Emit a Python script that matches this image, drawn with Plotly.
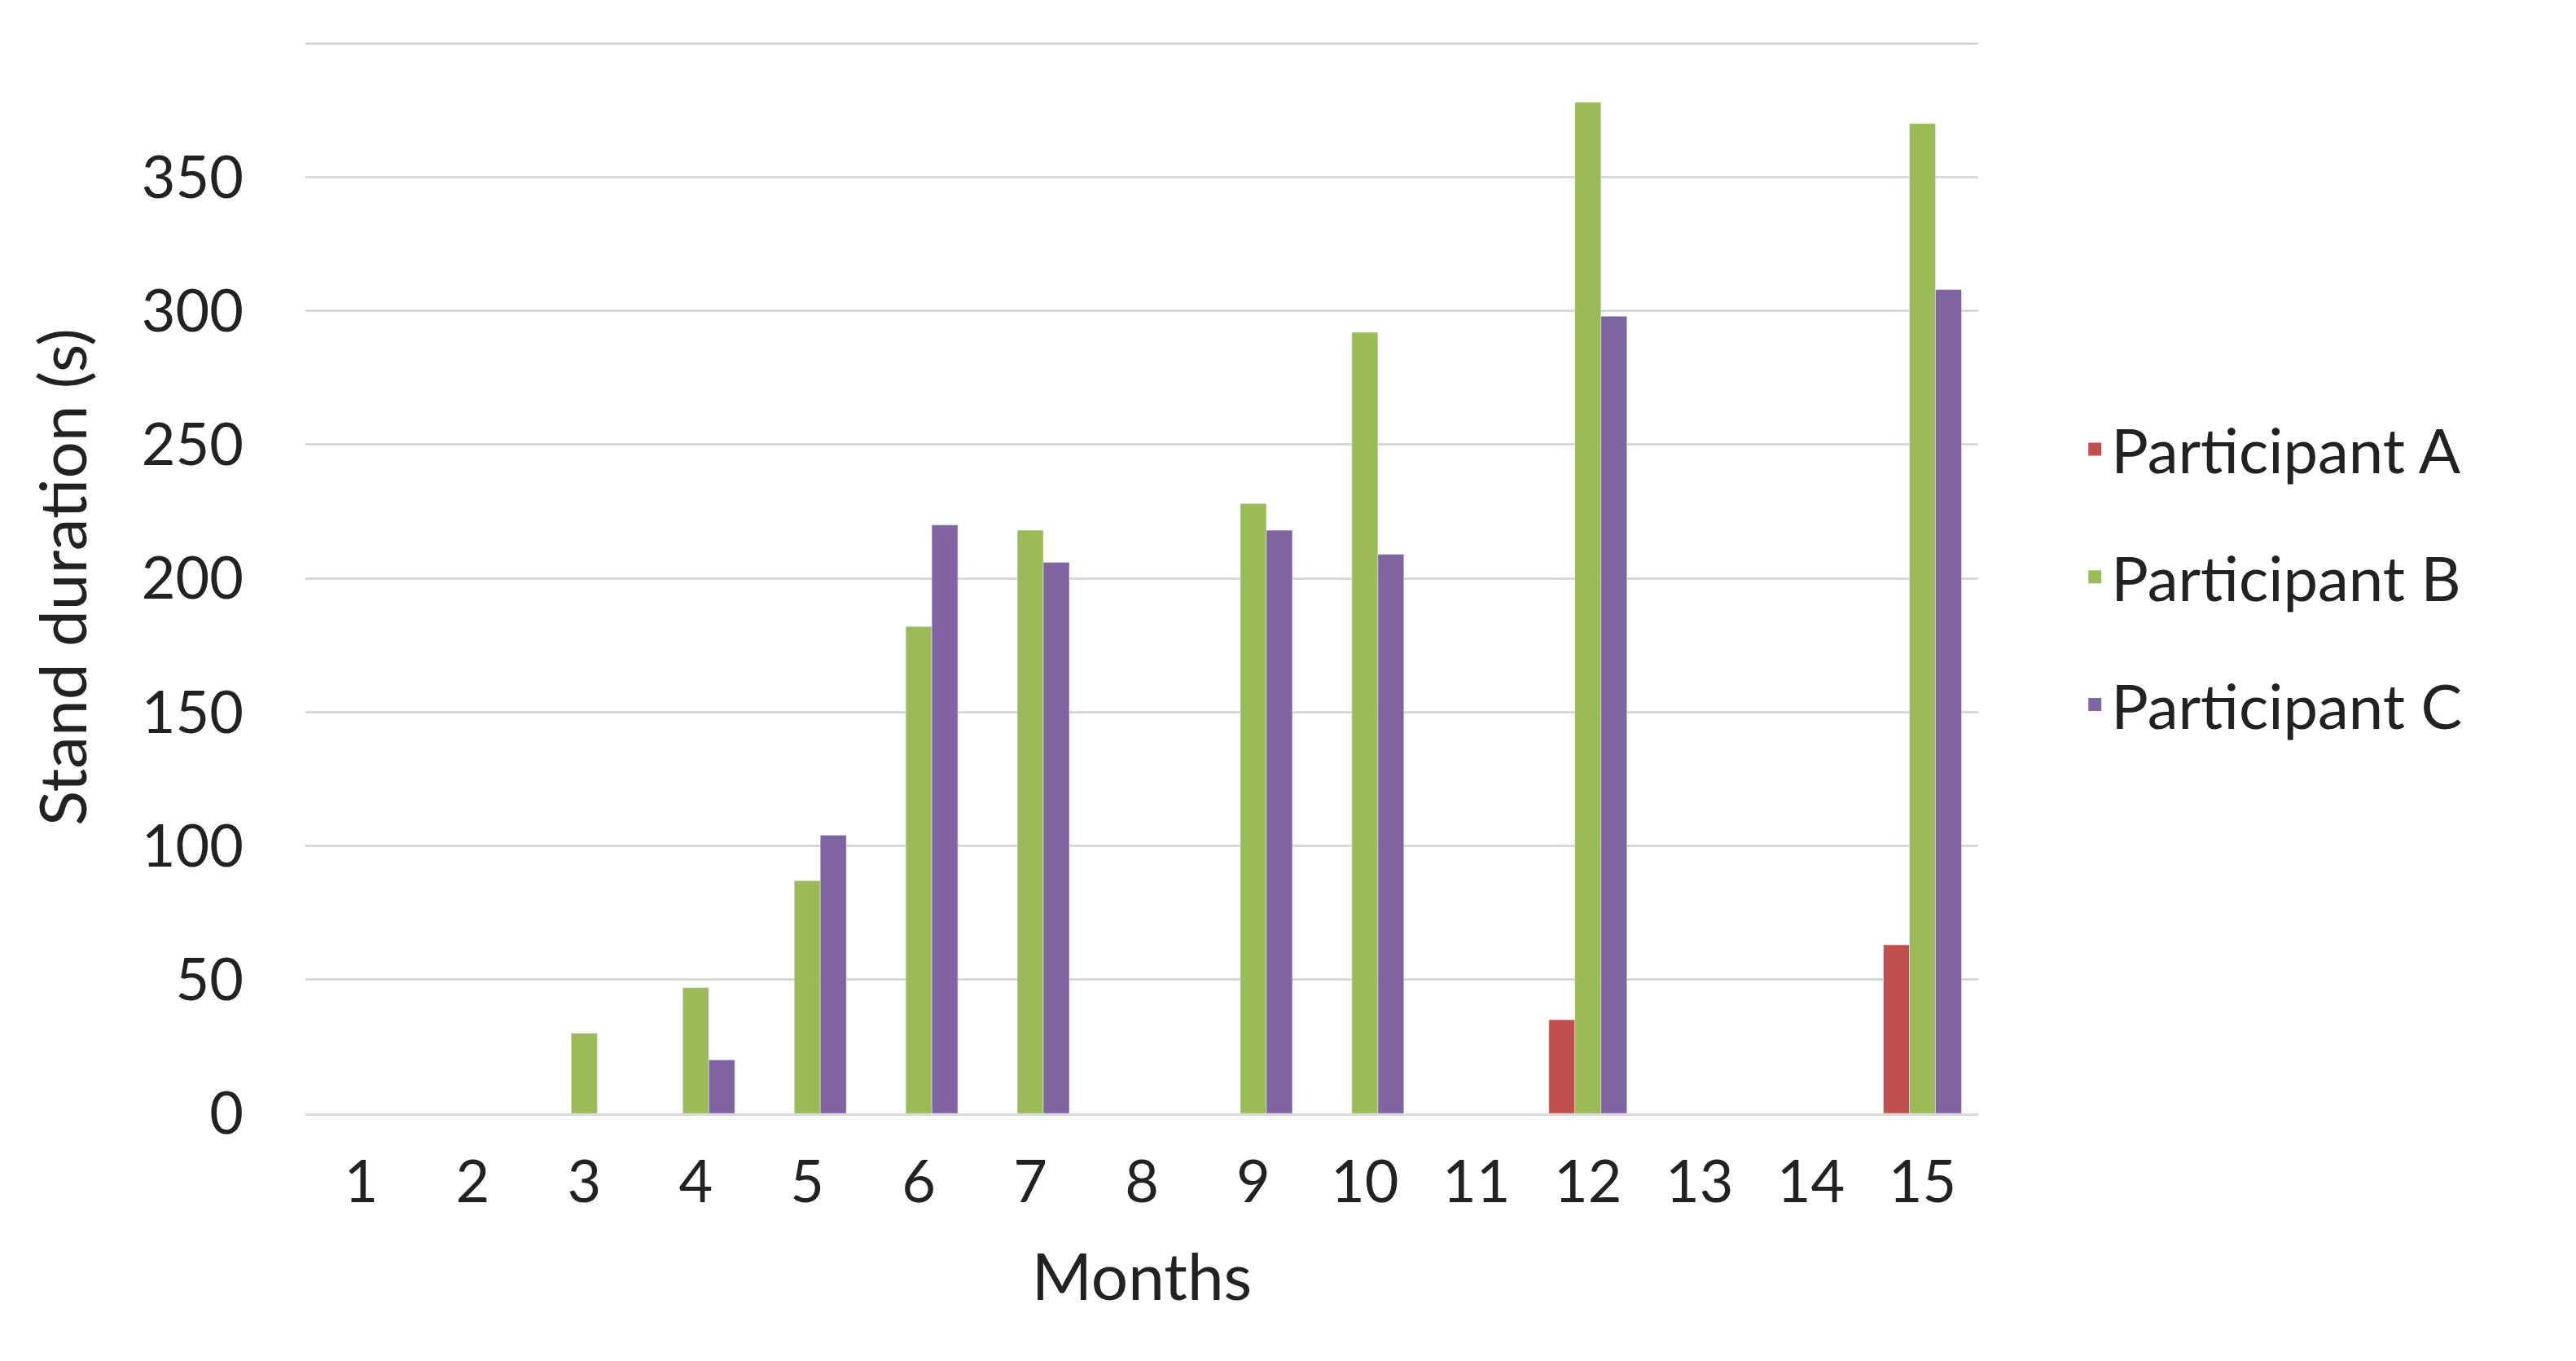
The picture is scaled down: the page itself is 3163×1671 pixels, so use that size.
import plotly.graph_objects as go

months = [str(i) for i in range(1, 16)]
part_a = [None]*11 + [35, None, None, 63]
part_b = [None, None, 30, 47, 87, 182, 218, None, 228, 292, None, 378, None, None, 370]
part_c = [None, None, None, 20, 104, 220, 206, None, 218, 209, None, 298, None, None, 308]

fig = go.Figure()
for name, vals, col in [("Participant A", part_a, "#c0504d"),
                        ("Participant B", part_b, "#9bbb59"),
                        ("Participant C", part_c, "#8064a2")]:
    fig.add_bar(x=months, y=vals, name=name, marker_color=col, showlegend=False,
                legendgroup=name)
    fig.add_scatter(x=[None], y=[None], mode="markers", name=name, legendgroup=name,
                    marker=dict(symbol="square", size=48, color=col))

fig.update_layout(
    width=3163, height=1671, barmode="group", bargap=0.3, bargroupgap=0,
    plot_bgcolor="white", paper_bgcolor="white",
    font=dict(family="Lato", size=72, color="#222"),
    margin=dict(l=367, r=742, t=42, b=312),
    legend=dict(x=1.06, y=0.5, yanchor="middle", font=dict(size=76),
                tracegroupgap=55, itemwidth=30),
    xaxis=dict(title=dict(text="Months", font=dict(size=80), standoff=50),
               showline=True, linecolor="#d9d9d9", linewidth=3, ticks="",
               ticklabelstandoff=20),
    yaxis=dict(title=dict(text="Stand duration (s)", font=dict(size=80), standoff=40),
               range=[0, 401], tickvals=list(range(0, 401, 50)), gridcolor="#d9d9d9", gridwidth=3,
               zeroline=False, ticklabelstandoff=75),
)
fig.write_html("out.html")
